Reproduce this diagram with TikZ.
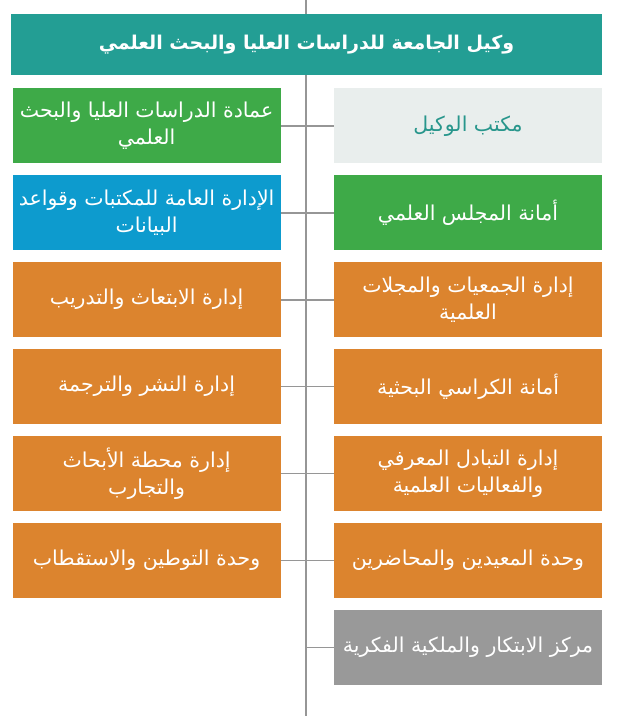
\documentclass[tikz,border=0pt]{standalone}
\usepackage{fontspec}
\usepackage{xcolor}
\usepackage{tikz}
\usetikzlibrary{positioning}
\newfontfamily\arabicfont[Script=Arabic]{DejaVu Sans}
\TeXXeTstate=1
\newcommand{\artext}[1]{\beginR #1\endR}

\definecolor{headteal}{RGB}{35,158,148}
\definecolor{boxgreen}{RGB}{62,170,72}
\definecolor{boxblue}{RGB}{13,155,206}
\definecolor{boxorange}{RGB}{220,132,46}
\definecolor{boxlight}{RGB}{233,238,237}
\definecolor{lighttext}{RGB}{40,150,140}
\definecolor{boxgrey}{RGB}{153,153,153}
\definecolor{linegrey}{RGB}{150,150,150}

\begin{document}
\begin{tikzpicture}[
    x=1pt, y=1pt,
    node distance=11.5pt and 53pt,
    box/.style={rectangle, minimum width=268pt, minimum height=75pt, inner sep=0pt, text=white, align=center, font=\arabicfont\fontsize{20.5}{27}\selectfont},
    head/.style={rectangle, fill=headteal, minimum width=591pt, minimum height=61pt, inner sep=0pt, text=white, font=\arabicfont\bfseries\fontsize{19}{24}\selectfont},
    link/.style={draw=linegrey, line width=1.6pt}
]
\useasboundingbox (0,0) rectangle (619,-716);

\coordinate (top) at (306,0);
\coordinate (bottom) at (306,-716);
\draw[link] (top) -- (bottom);

\node[head] (vp) at (306.5,-44.5) {\artext{وكيل الجامعة للدراسات العليا والبحث العلمي}};

% right column
\node[box, fill=boxlight, text=lighttext, below left=13pt and 0pt of vp.south east] (office) {\artext{مكتب الوكيل}};
\node[box, fill=boxgreen, below=of office] (council) {\artext{أمانة المجلس العلمي}};
\node[box, fill=boxorange, below=of council] (societies) {\artext{إدارة الجمعيات والمجلات}\\\artext{العلمية}};
\node[box, fill=boxorange, below=of societies] (chairs) {\artext{أمانة الكراسي البحثية}};
\node[box, fill=boxorange, below=of chairs] (exchange) {\artext{إدارة التبادل المعرفي}\\\artext{والفعاليات العلمية}};
\node[box, fill=boxorange, below=of exchange] (faculty) {\artext{وحدة المعيدين والمحاضرين}};
\node[box, fill=boxgrey, below=of faculty] (innovation) {\artext{مركز الابتكار والملكية الفكرية}};

% left column
\node[box, fill=boxgreen, left=of office] (deanship) {\artext{عمادة الدراسات العليا والبحث}\\\artext{العلمي}};
\node[box, fill=boxblue, left=of council] (libraries) {\artext{الإدارة العامة للمكتبات وقواعد}\\\artext{البيانات}};
\node[box, fill=boxorange, left=of societies] (scholarship) {\artext{إدارة الابتعاث والتدريب}};
\node[box, fill=boxorange, left=of chairs] (publishing) {\artext{إدارة النشر والترجمة}};
\node[box, fill=boxorange, left=of exchange] (station) {\artext{إدارة محطة الأبحاث}\\\artext{والتجارب}};
\node[box, fill=boxorange, left=of faculty] (localization) {\artext{وحدة التوطين والاستقطاب}};

\draw[link] (deanship) -- (office);
\draw[link] (libraries) -- (council);
\draw[link] (scholarship) -- (societies);
\draw[link] (publishing) -- (chairs);
\draw[link] (station) -- (exchange);
\draw[link] (localization) -- (faculty);
\draw[link] (innovation.west) -- (innovation.west -| top);

\end{tikzpicture}
\end{document}
